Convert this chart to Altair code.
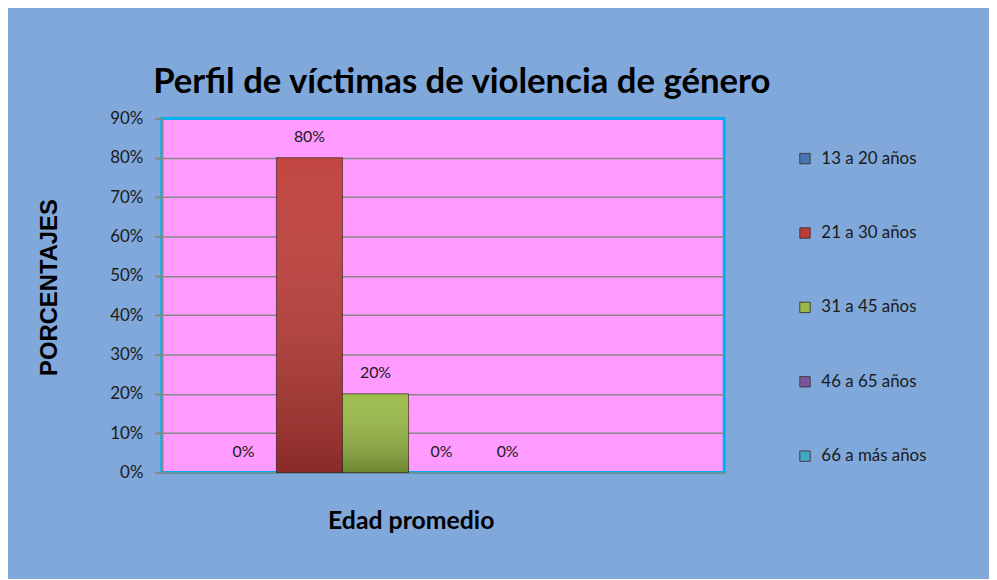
import altair as alt
import pandas as pd

series = ["13 a 20 años", "21 a 30 años", "31 a 45 años", "46 a 65 años", "66 a más años"]
values = [0.0, 0.80, 0.20, 0.0, 0.0]
colors = ["#4577B8", "#BE3B36", "#98BA44", "#7A559C", "#40A8C4"]
y_ticks = [0.0, 0.1, 0.2, 0.3, 0.4, 0.5, 0.6, 0.7, 0.8, 0.9]
group = "Edad promedio"

df = pd.DataFrame({"grupo": [group] * len(series), "serie": series, "valor": values})

x = alt.X(
    "grupo:N",
    scale=alt.Scale(paddingInner=0, paddingOuter=0),
    axis=alt.Axis(
        labels=False, ticks=False, domain=False, grid=False,
        title="Edad promedio", titleFont="Lato", titleFontSize=25,
        titleFontWeight="bold", titleColor="black",
        titleX=251, titleY=56, titleBaseline="alphabetic", titleAlign="center",
    ),
)
xoff = alt.XOffset("serie:N", sort=series, scale=alt.Scale(domain=series, paddingInner=0, paddingOuter=0, range=[49, 382]))
y = alt.Y(
    "valor:Q",
    scale=alt.Scale(domain=[0, 0.9], nice=False),
    axis=alt.Axis(
        values=y_ticks, format=".0%",
        title="PORCENTAJES", titleFont="Liberation Sans", titleFontSize=24,
        titleFontWeight="bold", titleColor="black",
        titleX=-113, titleY=170, titleBaseline="middle", titleAlign="center",
        gridColor={"condition": {"test": "datum.value >= 0.89", "value": "#00B0F0"}, "value": "#878787"},
    ),
)
color = alt.Color(
    "serie:N",
    scale=alt.Scale(domain=series, range=colors),
    legend=alt.Legend(
        title=None, orient="none", legendX=640, legendY=32,
        symbolType="square", symbolSize=110, symbolStrokeWidth=1,
        symbolStrokeColor="#404040",
        labelFont="Lato", labelFontSize=17, labelColor="#1a1a1a",
        rowPadding=57, labelOffset=8,
    ),
)

base = alt.Chart(df)
bars = base.mark_bar(stroke="#3a2020", strokeWidth=1).encode(
    x=x, xOffset=xoff, y=y, color=color,
    strokeOpacity=alt.condition(alt.datum.valor > 0, alt.value(0.7), alt.value(0)),
)
shade = base.mark_bar(
    color=alt.Gradient(
        gradient="linear",
        stops=[
            alt.GradientStop(color="rgba(255,255,255,0.06)", offset=0),
            alt.GradientStop(color="rgba(0,0,0,0.28)", offset=1),
        ],
        x1=0, x2=0, y1=0, y2=1,
    )
).encode(x=x, xOffset=xoff, y=y)
labels = base.mark_text(dy=-21, font="Lato", fontSize=16, color="#1a1a1a").encode(
    x=x, xOffset=xoff, y=y, text=alt.Text("valor:Q", format=".0%")
)

chart = (
    alt.layer(bars, shade, labels)
    .properties(
        width=567,
        height=357,
        title=alt.TitleParams(
            "Perfil de víctimas de violencia de género",
            font="Lato", fontSize=35, fontWeight="bold", color="black",
            anchor="middle", dx=19, offset=10,
        ),
        autosize=alt.AutoSizeParams(type="none"),
        padding={"left": 155, "top": 109, "right": 267, "bottom": 105},
        background="#81A8DA",
    )
    .configure_view(fill="#FF9BFF", stroke="#00B0F0", strokeWidth=3)
    .configure_axisY(
        domainColor="#878787", domainWidth=2, tickColor="#878787", tickSize=7,
        tickWidth=2, gridWidth=1.5, labelFont="Lato", labelFontSize=17,
        labelColor="#1a1a1a", labelPadding=12,
    )
)

chart.save("out.html", embed_options={"renderer": "svg", "actions": False})
